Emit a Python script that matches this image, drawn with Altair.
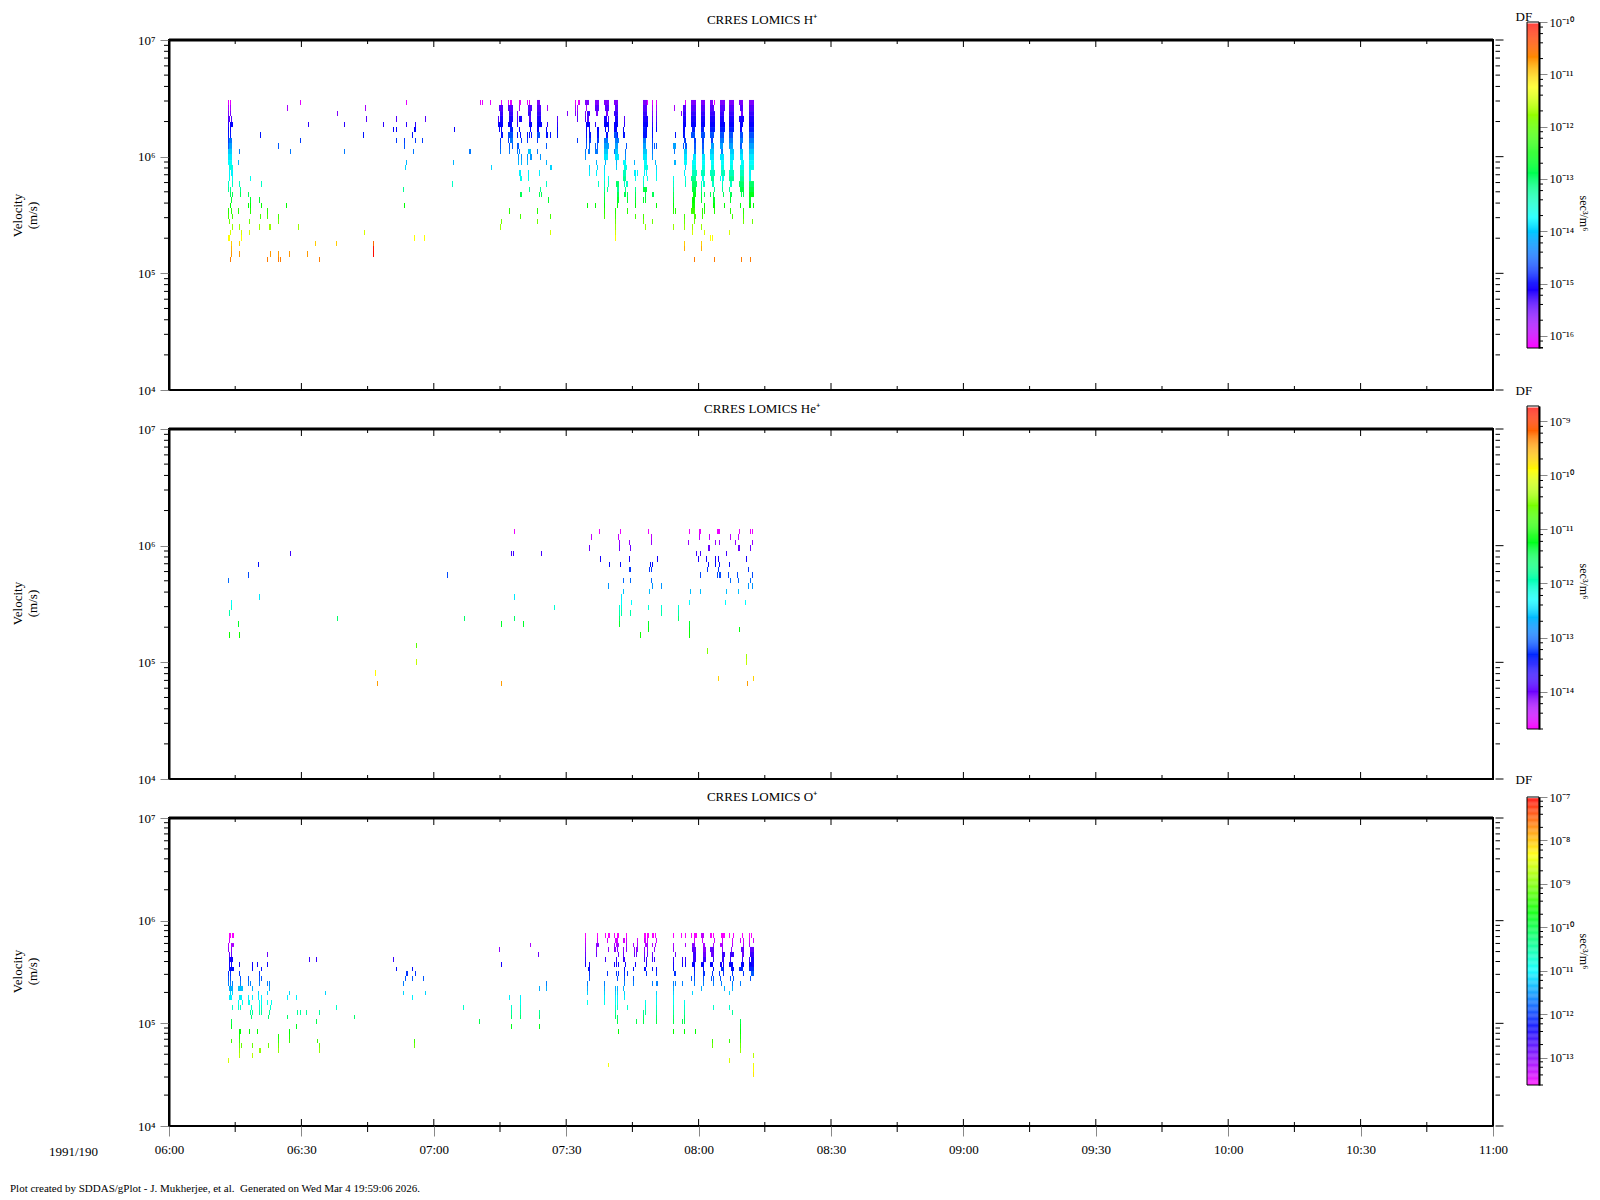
import json
import math
import altair as alt
import numpy as np
import pandas as pd

FONT = "Liberation Serif"
W = 1324
HS = [350, 350, 308]
BAR_W = 12
RAINBOW = ["#ff0000", "#ffff00", "#00ff00", "#00ffff", "#0000ff", "#ff00ff"]
MINUTES = 300
SCAN_COLUMNS = 1324
MAJOR_T = [0, 30, 60, 90, 120, 150, 180, 210, 240, 270, 300]
MINOR_T = [15, 45, 75, 105, 135, 165, 195, 225, 255, 285]
TIME_LABELS = ["06:00", "06:30", "07:00", "07:30", "08:00", "08:30", "09:00", "09:30", "10:00", "10:30", "11:00"]
V_DECADES = [1e4, 1e5, 1e6, 1e7]
V_LABELS = ["10⁴", "10⁵", "10⁶", "10⁷"]
MULT = [2, 3, 4, 5, 6, 7, 8, 9]
BAR_MULT = [2, 4, 6, 8]
FOOTER = "Plot created by SDDAS/gPlot - J. Mukherjee, et al. \u00a0Generated on Wed Mar 4 19:59:06 2026."

# bin edges, log10 of velocity in m/s
H_EDGES = [6.486, 6.443, 6.391, 6.349, 6.297, 6.254, 6.211, 6.160, 6.117, 6.066, 6.023, 5.971, 5.929, 5.886, 5.834, 5.791,
           5.740, 5.697, 5.654, 5.603, 5.560, 5.509, 5.466, 5.423, 5.371, 5.329, 5.277, 5.234, 5.191, 5.140, 5.097]
HE_EDGES = [6.143, 6.100, 6.049, 6.006, 5.954, 5.911, 5.860, 5.817, 5.774, 5.723, 5.680, 5.629, 5.586, 5.534, 5.491, 5.449,
            5.397, 5.354, 5.303, 5.260, 5.209, 5.166, 5.123, 5.071, 5.029, 4.977, 4.934, 4.883, 4.840, 4.797, 4.754]
O_EDGES = [5.880, 5.831, 5.782, 5.744, 5.695, 5.646, 5.597, 5.549, 5.510, 5.461, 5.412, 5.364, 5.315, 5.276, 5.227, 5.179,
           5.130, 5.081, 5.042, 4.994, 4.945, 4.896, 4.847, 4.808, 4.760, 4.711, 4.662, 4.614, 4.575, 4.526, 4.477]

# log10 DF per bin: isolated cells, and the dense core cells
H_DF = [-16.1, -15.8, -15.6, -15.4, -15.2, -15.0, -14.9, -14.7, -14.55, -14.4, -14.25, -14.1, -13.95, -13.8, -13.65, -13.45,
        -13.2, -12.9, -12.7, -12.5, -12.3, -12.15, -11.95, -11.75, -11.45, -11.25, -11.0, -10.85, -10.75, -10.6]
H_DF_CORE = [-15.6, -15.4, -15.25, -15.1, -15.0, -14.85, -14.6, -14.4, -14.2, -14.0, -13.85, -13.75, -13.6, -13.4, -13.2, -13.0,
             -12.8, -12.6, -12.5, -12.4, -12.2, -12.1, -11.95, -11.75, -11.45, -11.25, -11.0, -10.85, -10.75, -10.6]
HE_DF = [-14.6, -14.4, -14.2, -14.0, -13.8, -13.6, -13.45, -13.25, -13.15, -13.0, -12.8, -12.6, -12.4, -12.3, -12.1, -11.9,
         -11.6, -11.3, -11.15, -11.05, -10.9, -10.7, -10.5, -10.35, -10.2, -10.05, -9.9, -9.7, -9.45, -9.3]
O_DF = [-13.6, -13.4, -13.2, -13.05, -12.85, -12.6, -12.4, -12.25, -12.05, -11.85, -11.65, -11.4, -11.2, -11.05, -10.9, -10.7,
        -10.45, -10.2, -10.05, -9.8, -9.65, -9.5, -9.35, -9.1, -8.9, -8.7, -8.55, -8.4, -8.3, -8.2]
O_DF_CORE = [-13.3, -13.1, -13.0, -12.8, -12.6, -12.4, -12.3, -12.1, -11.85, -11.7, -11.5, -11.3, -11.2, -11.05, -10.9, -10.7,
             -10.45, -10.2, -10.05, -9.8, -9.65, -9.5, -9.35, -9.1, -8.9, -8.7, -8.55, -8.4, -8.3, -8.2]

# Cells per bin. c = time position in thirds of a scan column; (c, w) adds width; (c, w, df) adds own log DF.
H_A = [
 [235,241,451,769], [235,241,412,646], [235,241,562], [235,238,243,649,739,826],
 [235,(244,9),475,583,700,769,796], [235,241,730,739,(795,6),913], [235,241,331,640,787], [235,(242,9),451,739,763,796,817],
 [235,(242,9),385,763], [(240,12),268,421,583,790], [(240,12)], [(240,12),265,769,910],
 [(244,12),766], [238,(246,6)], [238,246,301], [235,246,268,334,907],
 [235,240,271,760], [240,246,271,295], [(245,4),301,328], [242,301,295,334,409,763],
 [235,244,265,301,352], [235,247,331,352,385], [(240,4),298,385], [247,268,328,(359,6),445],
 [241,274,298,643], [(236,6),274,793,823], [243,268,496,559,(670,3,-10.5)], [(246,4),(670,3,-10.1)],
 [(246,4),268,361,385,418,472,(670,3,-10.05)], [241,352,385,391,508],
]
H_B = [
 [60,66,90,123,145,(152,6),(180,6),202,208,(237,10),345,(356,6),(381,12),(411,12),(439,14),(468,12),(555,12),561,577,589,677,(700,14),(729,12),(754,9),762,(787,14),(814,14),(843,12)],
 [(123,12),(152,16),178,(211,12),(238,12),262,346,352,378,(411,12),(441,12),(469,9),(555,12),577,589,643,(673,9),(700,15),(729,12),(756,12),(787,14),(814,15),(844,9)],
 [(124,9),(153,12),172,(209,9),(238,12),322,346,352,375,(385,9),(411,6),(441,6),(468,12),(555,12),577,589,664,(673,9),(700,15),(729,12),(757,14),(786,12),(814,15),(846,6)],
 [114,(124,9),(153,12),172,(182,9),(211,6),(238,12),292,351,375,(384,6),(436,9),444,(469,9),492,(556,14),577,589,(673,9),(700,15),(729,12),(757,14),(786,12),(814,14),(844,14)],
 [(121,15),(150,12),172,(212,9),(238,15),262,292,(384,12),406,(439,15),(468,12),492,(556,14),577,589,(673,9),(700,15),(729,12),(757,14),(787,14),(814,14),(844,9)],
 [117,123,(154,9),178,211,(235,6),258,292,378,387,(414,6),435,444,(465,6),470,489,(553,9),558,576,588,(672,6),(700,9),(727,9),(757,14),(787,14),(814,14),(843,6)],
 [(126,6),(151,15),172,181,201,207,213,(236,9),(261,6),270,292,378,(390,6),(414,6),(441,6),(466,9),471,(491,6),(552,6),(558,6),577,646,(672,6),(699,12),(729,12),(756,12),(786,12),(813,12),(844,9)],
 [120,144,(154,9),184,201,232,351,378,(391,6),(414,6),(438,12),(471,12),(553,9),577,(675,6),(705,6),(729,6),(756,6),(786,12),(813,12),(844,9)],
 [120,147,156,(175,6),259,378,388,406,412,(439,15),(470,9),498,(553,9),577,583,589,(644,9),669,(678,6),(705,6),(729,6),(757,9),(784,9),(813,12),(843,6)],
 [(30,6),120,147,172,178,(208,9),232,376,(388,6),(409,6),412,(438,12),462,(470,9),495,(555,12),577,642,(676,9),(705,6),(729,6),(756,12),(786,6),(816,12),(844,9)],
 [175,183,201,(214,6),240,376,(438,12),(471,12),495,(555,12),577,(676,9),(703,9),(730,9),(756,12),(786,12),(816,12),(844,9)],
 [175,183,201,258,409,435,468,(494,9),522,(556,9),586,(645,6),(676,9),(702,12),(730,9),(757,9),(787,9),(814,9),(847,9)],
 [93,(273,6),388,412,433,468,(496,9),(558,12),589,675,(702,12),(730,9),(757,9),(787,9),(814,9),(846,12)],
 [(181,6),205,238,388,409,433,(494,9),(525,6),(532,4),553,558,589,672,(703,15),(729,12),(757,15),(789,12),(814,15),(846,12)],
 [(184,6),205,433,444,(494,9),526,549,561,589,640,675,(701,15),(729,6),(757,9),781,(789,6),(814,15),(846,12)],
 [259,415,433,444,(472,9),492,(501,6),549,640,675,(703,15),723,(733,6),(760,6),787,(813,6),(844,15)],
 [208,241,433,441,(475,6),497,526,(555,12),640,(702,12),723,762,786,807,(846,12)],
 [(184,6),238,243,433,(475,6),(496,6),502,526,556,(580,6),640,(703,9),723,732,750,760,790,(814,6),844,850],
 [265,433,(475,6),502,526,549,556,640,(700,9),723,760,763,811],
 [381,406,433,472,526,589,640,(700,9),732,(763,6),793,841],
 [148,232,433,466,502,640,646,(700,12),726,732,763,811,850],
 [181,270,433,466,526,549,673,(706,6),727,817,850],
 [124,232,466,549,577,673,703,850],
 [121,466,556,640,673,697,724],
 [270,466,697,733,808],
 [466,751,757],
 [673,724],
 [673,724],
 [],
 [703,763,844],
]
# last H+ stack, near 08:12
H_C = [[(275,15)], [(275,15)], [(275,15)], [(275,15)], [(275,15)], [(275,15)], [(275,15)], [(275,15)], [(275,15)], [(275,15)],
       [(275,15)], [(275,15)], [(275,15)], [(271,6)], [(271,6)], [(275,15)], [(275,15)], [(275,15)], [(270,6)], [(270,6),280],
       [], [], [277], [], [], [], [], [], [], [270]]
HE_C = [
 [888,1127,1187,1264,1381,(1409,6),(1463,8),1521], [1104,1181,1273,1409,1438,1495,1518], [1184,1210,(1275,4),1378,1455,1466,1509],
 [1099,1184,1215,(1436,6),(1519,6)], [255,879,885,962,1401,1412,1486], [1130,1210,1290,1406,1429,1455,1461,1540],
 [166,1156,1187,1270,1275,1435,1455,1466,1492], [(1212,5),1267,1272,1431,1461,1546], [138,697,1412,1458,(1466,5),1489,1515],
 [81,1193,1213,1273,1495,1518], [1153,1275,1301,1546], [1193,1267,1384,1412,1486,1518], [169,888,1190], [89,1190,1218,1381,1483,1538],
 [89,999,1184,1190,1264,1301,1349], [84,1190,1184,1213,1301,1349], [389,745,888,1184,1349], [109,851,913,1184,1264,1381],
 [1264,1381,1521], [84,112,1241,1381], [], [611], [1432], [1540], [611,1540], [], [494], [1461], [500,851,1543],
]
HE_D = [[19,25], [], [25], [19], [], [], [], [], [25], [19], [25], [], [], [], [], [], [], [], [], [], [], [], [], [], [], [], [], [28]]
O_A = [
 [(239,6),(248,6)], [238], [235,(248,8)], [(236,4),244], [238,244,352], [(244,12),478,499,730], [238,244,268,307,322,352],
 [(242,8),(248,6),307,334,739,787], [235,242,268,328,(771,6),796], [235,242,271,295,328,334,766,787,820],
 [235,242,246,271,295,301,328,352,358,760], [(242,8),246,(272,15),307,358], [241,246,325,352,418,526,760,826],
 [(242,8),(269,6),274,295,307,325,334,412,439,787], [266,277,(298,6),328,334,352,364], [247,265,271,304,328,334,361,559],
 [301,307,328,334,358,442,451,469,508], [304,355,412,613], [244,499], [244,439], [(269,6),298,322,418], [268,385,418],
 [244,268,385,418,502,793], [268,274,307,355,385,508,793], [268,(330,6),385,508], [268,307], [235],
]
O_B = [
 [376,412,436,(447,6),463,(474,6),499,(555,6),(564,6),(580,6),586,640,664,676,694,(707,8),(729,10),(754,6),760,(787,8),794,808,820,847,868],
 [376,412,442,(470,8),(493,6),499,532,(555,6),561,589,703,727,763,787,817,841,(852,4)],
 [211,376,(412,9),463,(473,8),499,520,532,(556,5),561,577,586,640,676,(700,9),(733,6),760,(785,8),817,850,868],
 [118,376,408,445,(466,6),472,490,499,523,(532,6),553,561,583,640,(703,12),(732,8),(757,12),787,814,(848,9)],
 [235,376,408,475,490,523,529,553,561,577,646,(704,9),(734,8),(758,8),(791,9),(817,12),(850,6)],
 [376,436,469,(493,6),553,559,577,583,640,667,676,(704,8),(734,8),760,(790,6),811,847,868],
 [124,376,388,463,469,475,496,526,559,640,667,676,(701,9),(729,10),(755,9),(784,6),790,(814,12),(848,9),868],
 [(387,4),388,493,520,(556,6),577,589,640,703,730,760,(789,10),(818,8),(844,12),868],
 [388,442,469,475,493,502,559,589,(646,6),703,(733,6),757,778,790,817,850],
 [388,472,493,520,694,703,730,754,760,781,811,820],
 [259,382,433,493,520,577,(590,6),640,646,667,703,730,760,784,817,841],
 [238,259,382,433,466,472,490,640,724,793,817],
 [382,433,466,472,493,589,640,697,808],
 [148,181,433,466,472,493,589,640],
 [382,181,433,466,472,556,589,640,673],
 [10,154,181,466,472,502,556,589,640,673,760,808],
 [154,181,238,466,550,556,589,640,673,817],
 [154,181,238,466,472,550,589,640,673],
 [58,472,529,550,589,640,667,673,841],
 [154,238,841],
 [475,640,673,706,841],
 [841],
 [757,808,841],
 [757,841],
 [841],
 [880],
 [808],
 [445,880],
 [880],
 [880],
]
O_C = [[16,21], [16,27], [16], [(24,12)], [(24,12)], [16,(26,9)], [(20,9),(27,6)], [(23,15)], [(25,9)], [20]]

BASE_LEFT = -57
BASE_RIGHT = 873
BASE_HE = 93
BASE_H_END = 1473
BASE_END = 1725
HE_STRETCH = 1 / 0.94


def cell_rows(rows, base, edges, df_thin, df_core, stretch=1.0):
    out = []
    for r, cells in enumerate(rows):
        for cell in cells:
            c, w, own = (cell, 3, None) if isinstance(cell, int) else (cell[0], cell[1], cell[2] if len(cell) > 2 else None)
            col = math.floor((c * stretch - w / 2 + base) / 3 + 0.5)
            n = max(1, round(w / 3))
            df = own if own is not None else (df_core[r] if w >= 9 else df_thin[r])
            out.append({"t0": col * MINUTES / SCAN_COLUMNS, "t1": (col + n) * MINUTES / SCAN_COLUMNS,
                        "v0": 10 ** edges[r + 1], "v1": 10 ** edges[r], "df": df})
    return out


h_cells = (cell_rows(H_A, BASE_LEFT, H_EDGES, H_DF, H_DF_CORE) + cell_rows(H_B, BASE_RIGHT, H_EDGES, H_DF, H_DF_CORE)
           + cell_rows(H_C, BASE_H_END, H_EDGES, H_DF, H_DF_CORE))
he_cells = cell_rows(HE_C, BASE_HE, HE_EDGES, HE_DF, HE_DF, HE_STRETCH) + cell_rows(HE_D, BASE_END, HE_EDGES, HE_DF, HE_DF)
o_cells = (cell_rows(O_A, BASE_LEFT, O_EDGES, O_DF, O_DF_CORE) + cell_rows(O_B, BASE_RIGHT, O_EDGES, O_DF, O_DF_CORE)
           + cell_rows(O_C, BASE_END, O_EDGES, O_DF, O_DF_CORE))

XS = alt.Scale(domain=[0, MINUTES], nice=False, zero=False)
YS = {i: alt.Scale(type="log", domain=[1e4, 1e7], nice=False) for i in range(3)}


def color_scale(top, bottom):
    return alt.Scale(domain=list(np.linspace(bottom, top, 6)), range=RAINBOW[::-1], interpolate="rgb")


def main_panel(cells, h, ys, top, bottom, title, title_offset, y_title_y, show_x=False):
    ext = [d * m for d in V_DECADES[:-1] for m in MULT]
    xaxis = None
    if show_x:
        xaxis = alt.Axis(values=MAJOR_T, tickSize=10, tickWidth=1, domain=False, labelFont=FONT, labelFontSize=13, labelPadding=7,
                         labelColor="black", grid=False, labelFlush=False,
                         labelExpr="%s[round(datum.value/30)]" % json.dumps(TIME_LABELS, ensure_ascii=False),
                         title="1991/190", titleFont=FONT, titleFontSize=13, titleFontWeight="normal", titleX=-96, titleY=25,
                         titleAnchor="middle", titleAlign="center", titleBaseline="middle")
    yaxis = alt.Axis(values=V_DECADES, tickSize=9, tickWidth=1, domainWidth=2, domainColor="black", grid=False, labelFont=FONT,
                     labelFontSize=13, labelPadding=5, labelColor="black",
                     labelExpr="%s[round(log(datum.value)/LN10)-4]" % json.dumps(V_LABELS, ensure_ascii=False),
                     title=["Velocity", "(m/s)"], titleFont=FONT, titleFontSize=13, titleFontWeight="normal", titleAngle=-90,
                     titleX=-152, titleY=y_title_y, titleAlign="center", titleBaseline="middle", titleLineHeight=15)
    base = alt.Chart(pd.DataFrame(cells)).mark_rect(strokeWidth=0).encode(
        x=alt.X("t0:Q", scale=XS, axis=xaxis), x2="t1:Q",
        y=alt.Y("v0:Q", scale=ys, axis=yaxis), y2="v1:Q",
        color=alt.Color("df:Q", scale=color_scale(top, bottom), legend=None))
    layers = [base]

    def xticks(values, y0, y1):
        return alt.Chart(pd.DataFrame({"t": values})).mark_rule(color="black", strokeWidth=1).encode(
            x=alt.X("t:Q", scale=XS, axis=xaxis), y=alt.value(y0), y2=alt.value(y1))

    def yticks(values, x0, x1, width=1):
        return alt.Chart(pd.DataFrame({"v": values})).mark_rule(color="black", strokeWidth=width).encode(
            y=alt.Y("v:Q", scale=ys, axis=yaxis), x=alt.value(x0), x2=alt.value(x1))

    layers += [xticks(MAJOR_T, 0, 7), xticks(MINOR_T, 0, 4), xticks(MAJOR_T, h - 7, h), xticks(MINOR_T, h - 4, h)]
    if show_x:
        layers += [xticks(MINOR_T, h, h + 6)]
    layers += [yticks(ext, -5, 0), yticks(ext, W + 2.5, W + 7), yticks(V_DECADES, W + 2.5, W + 10.5)]
    layers += [alt.Chart(pd.DataFrame({"v": [1e7]})).mark_rule(color="black", strokeWidth=3).encode(
        y=alt.Y("v:Q", scale=ys, axis=yaxis), x=alt.value(0), x2=alt.value(W))]
    if show_x:
        layers += [alt.Chart(pd.DataFrame({"s": [FOOTER]})).mark_text(align="left", baseline="middle", font=FONT, fontSize=11, color="black").encode(
            text="s:N", x=alt.value(-159), y=alt.value(h + 63))]
    return alt.layer(*layers).properties(
        width=W, height=h, view=alt.ViewBackground(stroke="black", strokeWidth=2),
        title=alt.TitleParams(title, anchor="middle", dx=-69, offset=title_offset, font=FONT, fontSize=13, fontWeight="normal", color="black"))


def bar_panel(h, top, bottom, decades, labels, first_exp, r_top, r_bottom, df_offset, unit_y):
    ys = alt.Scale(type="log", domain=[10.0 ** bottom, 10.0 ** top], range=[r_bottom, r_top], nice=False)
    grid = np.linspace(top - 0.03, bottom, 331)
    strip = pd.DataFrame({"lo": 10.0 ** grid[1:], "hi": 10.0 ** grid[:-1], "df": (grid[1:] + grid[:-1]) / 2})
    yaxis = alt.Axis(orient="right", values=decades, tickSize=8, tickWidth=1, domainWidth=2, domainColor="black", grid=False, labelFont=FONT,
                     labelFontSize=12.5, labelPadding=2, labelColor="black",
                     labelExpr="%s[-round(log(datum.value)/LN10)-%d]" % (json.dumps(labels, ensure_ascii=False), first_exp),
                     title="sec³/m⁶", titleFont=FONT, titleFontSize=12, titleFontWeight="normal", titleAngle=90, titleX=44, titleY=unit_y,
                     titleAlign="center", titleBaseline="middle")
    s = alt.Chart(strip).mark_rect(strokeWidth=0).encode(
        y=alt.Y("lo:Q", scale=ys, axis=yaxis), y2="hi:Q", x=alt.value(0), x2=alt.value(BAR_W),
        color=alt.Color("df:Q", scale=color_scale(top, bottom), legend=None))
    minor = []
    for d in decades + [decades[-1] / 10]:
        for m in BAR_MULT:
            if 10.0 ** bottom <= d * m <= 10.0 ** top:
                minor.append(d * m)
    tk = alt.Chart(pd.DataFrame({"v": minor})).mark_rule(color="black", strokeWidth=1).encode(
        y=alt.Y("v:Q", scale=ys, axis=yaxis), x=alt.value(BAR_W), x2=alt.value(BAR_W + 4))
    end = alt.Chart(pd.DataFrame({"v": [10.0 ** bottom]})).mark_rule(color="black", strokeWidth=1).encode(
        y=alt.Y("v:Q", scale=ys, axis=yaxis), x=alt.value(BAR_W), x2=alt.value(BAR_W + 4))
    frame = alt.Chart(pd.DataFrame({"a": [10.0 ** bottom], "b": [10.0 ** top]})).mark_rect(fillOpacity=0, stroke="black", strokeWidth=1).encode(
        y=alt.Y("a:Q", scale=ys, axis=yaxis), y2="b:Q", x=alt.value(0), x2=alt.value(BAR_W))
    return alt.layer(s, frame, tk, end).properties(
        width=BAR_W, height=h, view=alt.ViewBackground(stroke=None),
        title=alt.TitleParams("DF", anchor="start", dx=-11, offset=df_offset, font=FONT, fontSize=13, fontWeight="normal", color="black"))


H_BAR = [1e-10, 1e-11, 1e-12, 1e-13, 1e-14, 1e-15, 1e-16]
H_BAR_L = ["10⁻¹⁰", "10⁻¹¹", "10⁻¹²", "10⁻¹³", "10⁻¹⁴", "10⁻¹⁵", "10⁻¹⁶"]
HE_BAR = [1e-9, 1e-10, 1e-11, 1e-12, 1e-13, 1e-14]
HE_BAR_L = ["10⁻⁹", "10⁻¹⁰", "10⁻¹¹", "10⁻¹²", "10⁻¹³", "10⁻¹⁴"]
O_BAR = [1e-7, 1e-8, 1e-9, 1e-10, 1e-11, 1e-12, 1e-13]
O_BAR_L = ["10⁻⁷", "10⁻⁸", "10⁻⁹", "10⁻¹⁰", "10⁻¹¹", "10⁻¹²", "10⁻¹³"]

m1 = main_panel(h_cells, HS[0], YS[0], -10.0, -16.23, "CRRES LOMICS H⁺", 7, 175)
m2 = main_panel(he_cells, HS[1], YS[1], -8.72, -14.69, "CRRES LOMICS He⁺", 7, 174)
m3 = main_panel(o_cells, HS[2], YS[2], -7.0, -13.63, "CRRES LOMICS O⁺", 8, 153, show_x=True)
c1 = bar_panel(HS[0], -10.0, -16.23, H_BAR, H_BAR_L, 10, -18, 308, -7.5, 173)
c2 = bar_panel(HS[1], -8.72, -14.69, HE_BAR, HE_BAR_L, 9, -23, 300, 8, 152)
c3 = bar_panel(HS[2], -7.0, -13.63, O_BAR, O_BAR_L, 7, -21, 267, 4, 133)

chart = alt.concat(m1, c1, m2, c2, m3, c3, columns=2, spacing={"row": 39, "column": 34}, bounds="flush", center=False,
                   padding={"left": 1, "top": 2, "right": 0, "bottom": 0}).resolve_scale(color="independent")
chart = chart.configure(background="white")
chart = chart.configure_axis(labelFont=FONT, titleFont=FONT)
chart.save("out.html", embed_options={"renderer": "svg", "actions": False})
